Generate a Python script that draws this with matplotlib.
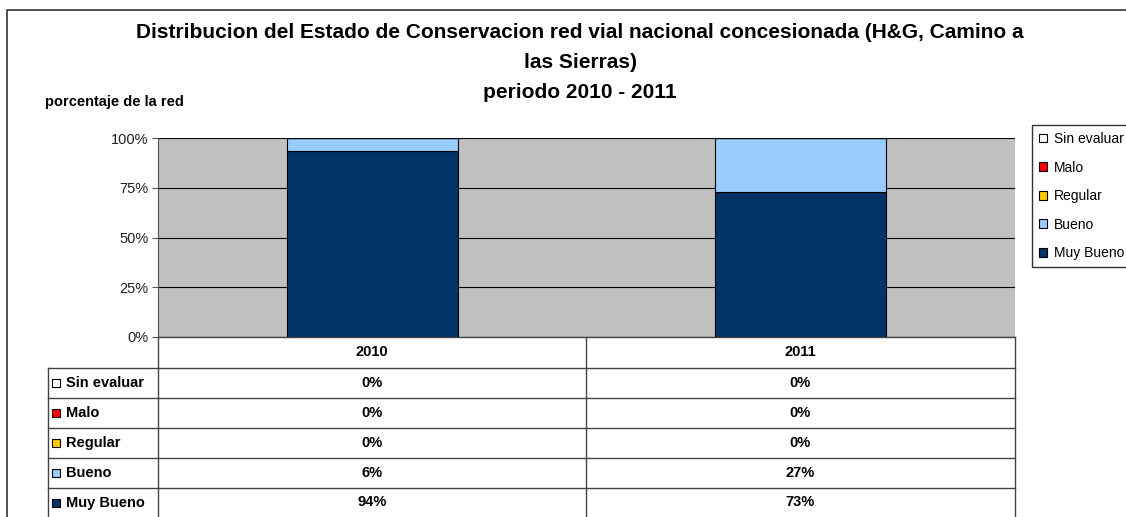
import numpy as np
import matplotlib.pyplot as plt
from matplotlib.patches import Patch, Rectangle

plt.rcParams['font.family'] = ['Liberation Sans', 'DejaVu Sans']

years = ['2010', '2011']
# stacked from bottom to top
states = ['Muy Bueno', 'Bueno', 'Regular', 'Malo', 'Sin evaluar']
values = {
    'Muy Bueno': [0.935, 0.73],
    'Bueno': [0.065, 0.27],
    'Regular': [0.0, 0.0],
    'Malo': [0.0, 0.0],
    'Sin evaluar': [0.0, 0.0],
}
colors = {
    'Muy Bueno': '#003366',
    'Bueno': '#99CCFF',
    'Regular': '#FFCC00',
    'Malo': '#FF0000',
    'Sin evaluar': '#FFFFFF',
}

W, H = 1126, 517
fig = plt.figure(figsize=(W / 100, H / 100), dpi=100)

# plot area in pixels
px0, px1, py0, py1 = 158, 1015, 138, 337
ax = fig.add_axes([px0 / W, 1 - py1 / H, (px1 - px0) / W, (py1 - py0) / H])
ax.set_facecolor('#C0C0C0')

x = np.arange(len(years))
bottom = np.zeros(len(years))
for s in states:
    v = np.array(values[s])
    ax.bar(x, v, 0.4, bottom=bottom, color=colors[s], edgecolor='black', linewidth=0.8, zorder=3)
    bottom += v

ax.set_xlim(-0.5, len(years) - 0.5)
ax.set_ylim(0, 1)
ax.set_yticks([0, 0.25, 0.5, 0.75, 1.0])
ax.set_yticklabels(['0%', '25%', '50%', '75%', '100%'], fontsize=10.5, color='#222222')
ax.yaxis.grid(True, color='black', linewidth=0.8, zorder=1)
ax.set_xticks([])
ax.tick_params(axis='y', length=4, width=0.8, color='#555555', pad=3)
for side in ['top', 'right', 'bottom']:
    ax.spines[side].set_visible(False)
ax.spines['left'].set_color('#555555')

# overlay in pixel coordinates for frame, titles and data table
ov = fig.add_axes([0, 0, 1, 1], zorder=5)
ov.set_xlim(0, W)
ov.set_ylim(H, 0)
ov.axis('off')

ov.plot([7, 7, W], [H, 10, 10], color='#333333', linewidth=1.2)

ov.text(580, 33, 'Distribucion del Estado de Conservacion red vial nacional concesionada (H&G, Camino a',
        ha='center', va='center', fontsize=15, fontweight='bold')
ov.text(580, 63, 'las Sierras)', ha='center', va='center', fontsize=15, fontweight='bold')
ov.text(580, 92, 'periodo 2010 - 2011', ha='center', va='center', fontsize=15, fontweight='bold')
ov.text(45, 102, 'porcentaje de la red', ha='left', va='center', fontsize=10.5, fontweight='bold')

# data table
col_x = [48, 158, 586, 1015]
row_y = [337, 368, 398, 428, 458, 488, H + 2]
rows = states[::-1]
lc = '#444444'
ov.plot([col_x[1], col_x[1]], [row_y[0], H], color=lc, linewidth=1)
ov.plot([col_x[2], col_x[2]], [row_y[0], H], color=lc, linewidth=1)
ov.plot([col_x[3], col_x[3]], [row_y[0], H], color=lc, linewidth=1)
ov.plot([col_x[0], col_x[0]], [row_y[1], H], color=lc, linewidth=1)
ov.plot([col_x[1], col_x[3]], [row_y[0], row_y[0]], color=lc, linewidth=1)
for y in row_y[1:-1]:
    ov.plot([col_x[0], col_x[3]], [y, y], color=lc, linewidth=1)

for j, yr in enumerate(years):
    cx = (col_x[j + 1] + col_x[j + 2]) / 2
    ov.text(cx, (row_y[0] + row_y[1]) / 2, yr, ha='center', va='center', fontsize=10.5, fontweight='bold')
for i, s in enumerate(rows):
    cy = (row_y[i + 1] + min(row_y[i + 2], H)) / 2
    ov.add_patch(Rectangle((52, cy - 4), 8, 8, facecolor=colors[s], edgecolor='black', linewidth=0.8))
    ov.text(66, cy, s, ha='left', va='center', fontsize=10.5, fontweight='bold')
    for j in range(len(years)):
        cx = (col_x[j + 1] + col_x[j + 2]) / 2
        ov.text(cx, cy, '%d%%' % round(values[s][j] * 100), ha='center', va='center',
                fontsize=10.5, fontweight='bold')

handles = [Patch(facecolor=colors[s], edgecolor='black', linewidth=0.8, label=s) for s in rows]
fig.legend(handles=handles, loc='upper left', bbox_to_anchor=(1032 / W, 1 - 125 / H),
           fontsize=10, frameon=True, fancybox=False, edgecolor='black',
           handlelength=0.6, handleheight=0.6, handletextpad=0.45,
           labelspacing=1.05, borderpad=0.5, borderaxespad=0)

fig.savefig('out.png', dpi=100)
